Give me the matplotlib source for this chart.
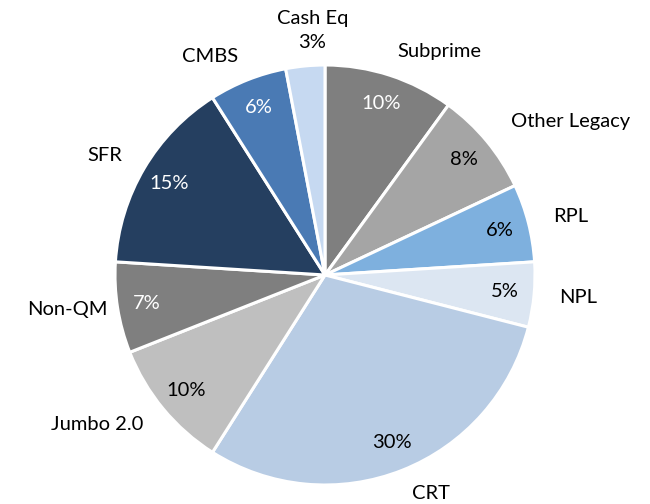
import numpy as np
import matplotlib.pyplot as plt

plt.rcParams['font.family'] = ['Lato', 'DejaVu Sans']

categories = ['Subprime', 'Other Legacy', 'RPL', 'NPL', 'CRT',
              'Jumbo 2.0', 'Non-QM', 'SFR', 'CMBS', 'Cash Eq']
shares = [10, 8, 6, 5, 30, 10, 7, 15, 6, 3]
colors = ['#7f7f7f', '#a5a5a5', '#7eb0de', '#dce6f2', '#b8cce4',
          '#bfbfbf', '#7f7f7f', '#253f60', '#4a7ab4', '#c6d9f1']
pct_colors = ['white', 'black', 'black', 'black', 'black',
              'black', 'white', 'white', 'white', 'black']

fig = plt.figure(figsize=(6.5, 5.04), dpi=100)
ax = fig.add_axes([0, 0, 1, 1])

wedges, texts, autotexts = ax.pie(
    shares, labels=categories, colors=colors, startangle=90,
    counterclock=False, radius=1.0, labeldistance=1.12, pctdistance=0.86,
    autopct='%d%%', wedgeprops=dict(edgecolor='white', linewidth=2.2),
    textprops=dict(fontsize=14.5))

for t, c in zip(autotexts, pct_colors):
    t.set_color(c)

# Non-QM label sits a bit closer to the pie
for name, r in [('Non-QM', 1.05), ('Other Legacy', 1.15)]:
    j = categories.index(name)
    m = np.deg2rad((wedges[j].theta1 + wedges[j].theta2) / 2)
    texts[j].set_position((r * np.cos(m), r * np.sin(m)))

# small Cash Eq slice: name and value stacked above the pie
i = categories.index('Cash Eq')
w = wedges[i]
mid = np.deg2rad((w.theta1 + w.theta2) / 2)
autotexts[i].set_text('')
texts[i].set_text(f'{categories[i]}\n{shares[i]}%')
texts[i].set_position((1.17 * np.cos(mid) + 0.05, 1.17 * np.sin(mid)))
texts[i].set_ha('center')
texts[i].set_linespacing(1.55)

s = 210.0
ax.set_xlim(-325 / s, 325 / s)
ax.set_ylim(-229 / s, 275 / s)
ax.set_aspect('auto')
ax.axis('off')

fig.savefig('out.png', dpi=100)
